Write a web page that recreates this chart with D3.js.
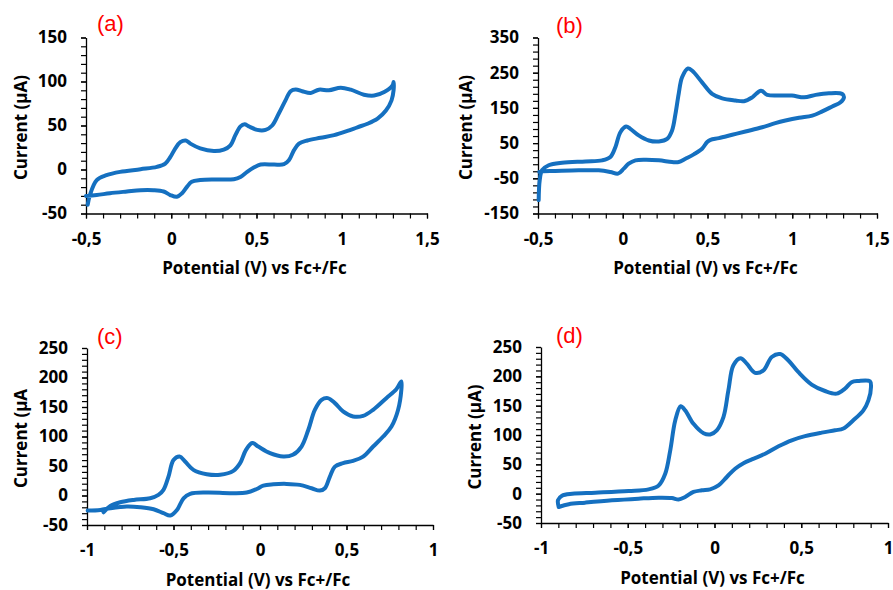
<!DOCTYPE html>
<html>
<head>
<meta charset="utf-8">
<script src="https://cdn.jsdelivr.net/npm/d3@7"></script>
<style>
  body { margin: 0; background: #fff; }
  .tick text { font-family: "Open Sans", sans-serif; font-weight: 700; font-size: 17px; fill: #000; }
  .axis-title { font-family: "Open Sans", sans-serif; font-weight: 700; font-size: 17px; fill: #000; }
  .panel-label { font-family: "Liberation Sans", Arial, sans-serif; font-size: 22px; fill: #ff0000; }
</style>
</head>
<body>
<div id="chart"></div>
<script>
// panel (a)
var potA = [-0.49, -0.477, -0.437, -0.38, -0.30, -0.18, -0.084, -0.035, -0.006, 0.024, 0.053, 0.085, 0.112, 0.17, 0.25, 0.308, 0.347, 0.376, 0.406, 0.43, 0.455, 0.504, 0.553, 0.592, 0.63, 0.67, 0.70, 0.73, 0.768, 0.818, 0.866, 0.925, 0.994, 1.053, 1.13, 1.19, 1.249, 1.298, 1.304,
            1.304, 1.292, 1.259, 1.21, 1.151, 1.092, 1.033, 0.955, 0.876, 0.798, 0.749, 0.72, 0.69, 0.661, 0.602, 0.524, 0.484, 0.445, 0.406, 0.367, 0.269, 0.17, 0.12, 0.092, 0.063, 0.033, -0.006, -0.045, -0.104, -0.18, -0.26, -0.36, -0.437, -0.5];
var currentA = [-40, -29, -12, -6.5, -2.7, 0.3, 3, 6.7, 14, 24, 31, 33, 29.4, 24, 21, 22.6, 27.5, 39, 49, 51.3, 49, 45, 45, 50, 63.4, 78.6, 89, 91, 89, 87, 90.7, 90, 93, 90.7, 85, 84, 88, 95.6, 99.4,
                90, 78.6, 67, 57.8, 52, 48, 43.8, 39, 36, 33, 29.4, 22, 10.5, 6, 5.6, 5.6, 2.2, -2.7, -8.4, -11, -11.4, -12, -14, -19.7, -27, -31, -29, -25, -23.5, -23.5, -25, -27, -29, -30];

// panel (b)
var potB = [-0.496, -0.49, -0.476, -0.437, -0.358, -0.22, -0.122, -0.073, -0.043, -0.014, 0.02, 0.045, 0.094, 0.154, 0.213, 0.262, 0.291, 0.311, 0.33, 0.35, 0.385, 0.41, 0.468, 0.527, 0.587, 0.665, 0.715, 0.764, 0.815, 0.852, 0.92, 0.998, 1.07, 1.138, 1.216, 1.295, 1.305,
            1.285, 1.236, 1.177, 1.118, 1.04, 0.96, 0.9, 0.823, 0.724, 0.646, 0.567, 0.518, 0.498, 0.468, 0.419, 0.37, 0.33, 0.291, 0.213, 0.134, 0.075, 0.035, 0.006, -0.028, -0.073, -0.142, -0.26, -0.398, -0.476, -0.492];
var currentB = [-112, -56, -27, -13, -5.7, -2, 1, 10.4, 39, 81, 97, 90.6, 72, 57.5, 54.7, 62, 86, 133, 190, 237, 262, 255.6, 222.6, 190, 177, 171, 169, 180, 199, 187, 185, 185, 180, 187, 191.5, 189.6, 180,
                166, 154, 140, 128, 122, 114, 106.6, 95, 83, 73.6, 64, 59.4, 53, 34, 18, 5.7, -3.8, -3.8, 1, 2.8, 1, -8.5, -22.6, -36.8, -32, -27.4, -27.4, -29, -30, -32];

// panel (c)
var potC = [-0.904, -0.865, -0.808, -0.73, -0.635, -0.587, -0.558, -0.529, -0.5, -0.465, -0.433, -0.385, -0.308, -0.23, -0.154, -0.115, -0.081, -0.045, -0.01, 0.058, 0.135, 0.19, 0.24, 0.279, 0.317, 0.356, 0.392, 0.433, 0.48, 0.538, 0.596, 0.654, 0.73, 0.788, 0.817,
            0.817, 0.798, 0.76, 0.712, 0.654, 0.596, 0.538, 0.48, 0.433, 0.404, 0.375, 0.346, 0.298, 0.23, 0.154, 0.077, 0.019, -0.019, -0.077, -0.173, -0.308, -0.404, -0.442, -0.48, -0.519, -0.558, -0.615, -0.692, -0.77, -0.865, -0.923, -0.996];
var currentC = [-28.4, -17.7, -11.5, -7.5, -4.7, 1, 9.5, 32, 60, 66, 57.6, 43.4, 36, 35, 41.7, 54.8, 77.4, 89, 83, 71.7, 66, 69, 83, 111, 145, 162, 165, 156.6, 142.5, 134, 135, 145.3, 165, 180, 193.4,
                179, 145, 117, 100, 83, 66, 58.7, 54.8, 49, 32, 12.3, 8.3, 12.3, 18, 19.7, 19, 16.8, 11, 5, 4, 5, 2.7, -4.7, -24.5, -34, -30, -23.4, -20, -18.8, -21.6, -24.5, -25.6];

// panel (d)
var potD = [-0.898, -0.902, -0.879, -0.82, -0.687, -0.495, -0.38, -0.322, -0.284, -0.255, -0.226, -0.195, -0.169, -0.121, -0.063, -0.025, 0.013, 0.052, 0.08, 0.109, 0.15, 0.186, 0.234, 0.282, 0.33, 0.378, 0.426, 0.484, 0.56, 0.637, 0.704, 0.752, 0.79, 0.829, 0.896,
            0.902, 0.887, 0.858, 0.8, 0.743, 0.695, 0.618, 0.522, 0.445, 0.369, 0.292, 0.215, 0.167, 0.119, 0.071, 0.023, -0.025, -0.073, -0.121, -0.169, -0.207, -0.246, -0.322, -0.438, -0.591, -0.745, -0.84, -0.898];
var currentD = [-22.7, -11, -3.4, 0, 1.7, 4.5, 7.4, 14, 34, 74, 125, 149, 142, 119, 103, 101, 108, 131, 176, 219, 231, 221.6, 206, 210, 233, 238, 227, 207, 186, 175, 170.5, 179, 190, 192, 191.5,
                182, 159, 142, 125, 111, 108, 104, 98, 91, 80.7, 68, 58.5, 52, 42.6, 28.4, 14, 7.4, 5.7, 3, -5.7, -10, -7.4, -6.8, -8.5, -11.4, -15.3, -18, -22.7];

var panels = [
    { label: "(a)", pot: potA, cur: currentA, yTitle: "Current (µA)",
      xDomain: [-0.5, 1.5], yDomain: [-50, 150], yMajor: 50, yMinor: 10,
      left: 86, right: 427, top: 37.5, bottom: 213.5,
      labelX: 97, labelY: 31, yTitleX: 27, xTitleY: 274 },
    { label: "(b)", pot: potB, cur: currentB, yTitle: "Current (µA)",
      xDomain: [-0.5, 1.5], yDomain: [-150, 350], yMajor: 100, yMinor: 20,
      left: 538, right: 877, top: 37.5, bottom: 213.5,
      labelX: 556, labelY: 33, yTitleX: 472, xTitleY: 274 },
    { label: "(c)", pot: potC, cur: currentC, yTitle: "Current (µA",
      xDomain: [-1, 1], yDomain: [-50, 250], yMajor: 50, yMinor: 10,
      left: 87, right: 433, top: 348, bottom: 525,
      labelX: 97, labelY: 344, yTitleX: 27, xTitleY: 586 },
    { label: "(d)", pot: potD, cur: currentD, yTitle: "Current (µA)",
      xDomain: [-1, 1], yDomain: [-50, 250], yMajor: 50, yMinor: 10,
      left: 541, right: 888, top: 347, bottom: 523,
      labelX: 556, labelY: 343, yTitleX: 481, xTitleY: 584 }
];

var svg = d3.select("#chart")
    .append("svg")
    .attr("width", 893)
    .attr("height", 590);

svg.append("rect")
    .attr("width", 893)
    .attr("height", 590)
    .attr("fill", "#fff");

function commaFormat(d) {
    return String(Math.round(d * 10) / 10).replace(".", ",");
}

function steps(domain, step) {
    return d3.range(Math.round((domain[1] - domain[0]) / step) + 1)
        .map(function(i) { return +(domain[0] + i * step).toFixed(4); });
}

function drawPanel(p) {
    var x = d3.scaleLinear().domain(p.xDomain).range([p.left, p.right]);
    var y = d3.scaleLinear().domain(p.yDomain).range([p.bottom, p.top]);

    var g = svg.append("g");

    // minor ticks first, then major axis with labels
    g.append("g")
        .attr("transform", "translate(" + p.left + ",0)")
        .call(d3.axisLeft(y).tickValues(steps(p.yDomain, p.yMinor)).tickSize(5).tickFormat(""))
        .call(function(a) { a.select(".domain").remove(); });

    g.append("g")
        .attr("transform", "translate(0," + p.bottom + ")")
        .call(d3.axisBottom(x).tickValues(steps(p.xDomain, 0.1)).tickSize(5).tickFormat(""))
        .call(function(a) { a.select(".domain").remove(); });

    var yAxis = g.append("g")
        .attr("transform", "translate(" + p.left + ",0)")
        .call(d3.axisLeft(y).tickValues(steps(p.yDomain, p.yMajor)).tickSize(5).tickPadding(14).tickFormat(commaFormat).tickSizeOuter(0));

    var xAxis = g.append("g")
        .attr("transform", "translate(0," + p.bottom + ")")
        .call(d3.axisBottom(x).tickValues(steps(p.xDomain, 0.5)).tickSize(5).tickPadding(14).tickFormat(commaFormat).tickSizeOuter(0));

    [yAxis, xAxis].forEach(function(a) {
        a.select(".domain").attr("stroke", "#000").attr("stroke-width", 1.3);
    });
    g.selectAll(".tick line").attr("stroke", "#000").attr("stroke-width", 1.2);

    var line = d3.line()
        .x(function(d, i) { return x(p.pot[i]); })
        .y(function(d) { return y(d); })
        .curve(d3.curveCatmullRom.alpha(0.5));

    g.append("path")
        .datum(p.cur)
        .attr("fill", "none")
        .attr("stroke", "#1570c0")
        .attr("stroke-width", 4)
        .attr("stroke-linejoin", "round")
        .attr("stroke-linecap", "round")
        .attr("d", line);

    g.append("text")
        .attr("class", "panel-label")
        .attr("x", p.labelX)
        .attr("y", p.labelY)
        .text(p.label);

    g.append("text")
        .attr("class", "axis-title")
        .attr("text-anchor", "middle")
        .attr("x", (p.left + p.right) / 2 - 2)
        .attr("y", p.xTitleY)
        .text("Potential (V) vs Fc+/Fc");

    g.append("text")
        .attr("class", "axis-title")
        .attr("text-anchor", "middle")
        .attr("transform", "translate(" + p.yTitleX + "," + ((p.top + p.bottom) / 2 + 2) + ") rotate(-90)")
        .text(p.yTitle);
}

panels.forEach(drawPanel);
</script>
</body>
</html>
